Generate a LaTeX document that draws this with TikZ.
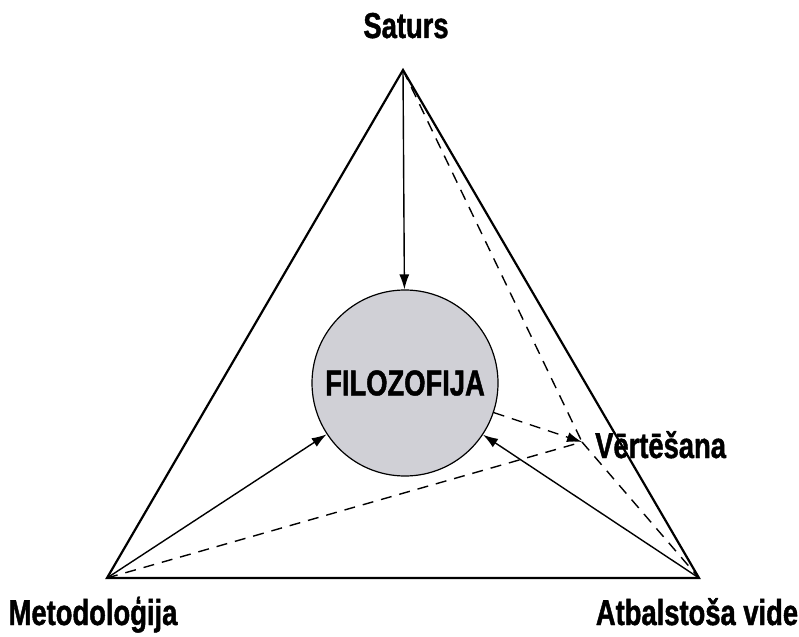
\documentclass[tikz,border=0pt]{standalone}
\usepackage{fontspec}
\setmainfont[FakeStretch=0.76, BoldFeatures={FakeBold=1.2}]{Liberation Sans}
\usetikzlibrary{arrows.meta}
\definecolor{circfill}{RGB}{208,208,214}
\begin{document}
\begin{tikzpicture}[x=1pt,y=-1pt,
  edge/.style={line width=2.2pt, line join=miter},
  arr/.style={line width=1.4pt, -{Latex[length=15pt,width=10pt]}},
  dsh/.style={line width=1.4pt, dash pattern=on 11pt off 8pt},
  lbl/.style={font=\bfseries\fontsize{36}{40}\selectfont, inner sep=0pt}]
\useasboundingbox (0,0) rectangle (799,636);
\coordinate (T) at (403,70);
\coordinate (L) at (107,578);
\coordinate (R) at (699,578);
\coordinate (V) at (582,442);
\draw[edge] (T) -- (R) -- (L) -- cycle;
\node[circle, draw, line width=1.2pt, fill=circfill, minimum size=186pt, inner sep=0pt, lbl] (F) at (405,383) {FILOZOFIJA};
\draw[arr] (T) -- (F);
\draw[arr] (L) -- (F);
\draw[arr] (R) -- (F);
\draw[dsh] (T) -- (V);
\draw[dsh] (V) -- (R);
\draw[dsh] (L) -- (V);
\draw[dsh, -{Latex[length=15pt,width=10pt]}] (F) -- (V);
\node[lbl, anchor=base] (ls) at (406,38) {Saturs};
\node[lbl, anchor=base] (lm) at (93,625) {Metodoloģija};
\node[lbl, anchor=base] (la) at (697,625) {Atbalstoša vide};
\node[lbl, anchor=base west] (lv) at (595,458) {Vērtēšana};
\end{tikzpicture}
\end{document}
